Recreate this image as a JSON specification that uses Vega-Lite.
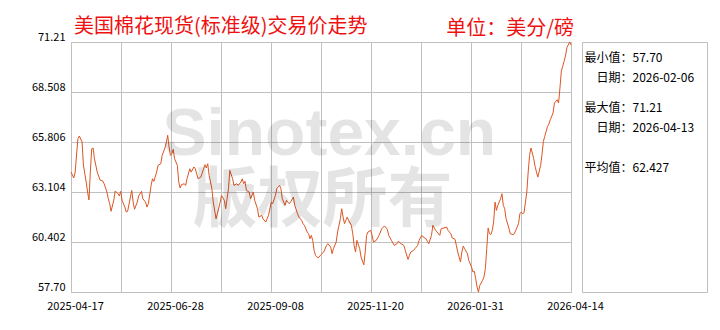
{
  "$schema": "https://vega.github.io/schema/vega-lite/v6.json",
  "background": "white",
  "padding": {"left": 28, "top": 16, "right": 14, "bottom": 10},
  "bounds": "flush",
  "spacing": 11,
  "config": {
    "font": "Noto Sans CJK SC",
    "view": {"stroke": "#c0c0c0", "strokeWidth": 1},
    "axis": {"domain": false, "ticks": false, "grid": true, "gridColor": "#c0c0c0", "gridOpacity": 1, "gridWidth": 1, "labelColor": "#000000", "labelFont": "Noto Sans CJK SC", "labelFontSize": 11, "labelOverlap": false},
    "title": {"fontWeight": "normal", "fontSize": 20, "color": "#ee1111", "font": "Noto Sans CJK SC"}
  },
  "datasets": {
    "cotton": [
      {"date": "2025-04-17", "price": 64.18}, {"date": "2025-04-19", "price": 63.86}, {"date": "2025-04-20", "price": 64.18}, {"date": "2025-04-22", "price": 65.98}, {"date": "2025-04-23", "price": 66.13}, {"date": "2025-04-25", "price": 65.81}, {"date": "2025-04-26", "price": 64.56}, {"date": "2025-04-28", "price": 63.64}, {"date": "2025-04-29", "price": 63.10}, {"date": "2025-04-30", "price": 62.67},
      {"date": "2025-05-01", "price": 64.18}, {"date": "2025-05-02", "price": 65.44}, {"date": "2025-05-03", "price": 65.48}, {"date": "2025-05-04", "price": 64.90}, {"date": "2025-05-06", "price": 64.18}, {"date": "2025-05-08", "price": 63.75}, {"date": "2025-05-10", "price": 63.70}, {"date": "2025-05-11", "price": 63.55}, {"date": "2025-05-13", "price": 63.10}, {"date": "2025-05-14", "price": 62.74}, {"date": "2025-05-15", "price": 62.47}, {"date": "2025-05-16", "price": 62.06}, {"date": "2025-05-18", "price": 62.67}, {"date": "2025-05-19", "price": 63.16}, {"date": "2025-05-21", "price": 63.01}, {"date": "2025-05-22", "price": 62.89}, {"date": "2025-05-23", "price": 63.14}, {"date": "2025-05-24", "price": 62.65}, {"date": "2025-05-26", "price": 62.29}, {"date": "2025-05-27", "price": 62.02}, {"date": "2025-05-28", "price": 62.06}, {"date": "2025-05-30", "price": 62.83}, {"date": "2025-05-31", "price": 63.19},
      {"date": "2025-06-01", "price": 62.56}, {"date": "2025-06-02", "price": 62.17}, {"date": "2025-06-04", "price": 62.56}, {"date": "2025-06-05", "price": 62.89}, {"date": "2025-06-07", "price": 63.14}, {"date": "2025-06-08", "price": 62.74}, {"date": "2025-06-10", "price": 62.56}, {"date": "2025-06-11", "price": 62.29}, {"date": "2025-06-12", "price": 62.47}, {"date": "2025-06-14", "price": 63.46}, {"date": "2025-06-15", "price": 63.82}, {"date": "2025-06-16", "price": 63.68}, {"date": "2025-06-18", "price": 64.18}, {"date": "2025-06-19", "price": 64.54}, {"date": "2025-06-21", "price": 64.63}, {"date": "2025-06-22", "price": 65.08}, {"date": "2025-06-24", "price": 65.48}, {"date": "2025-06-25", "price": 65.77}, {"date": "2025-06-26", "price": 66.17}, {"date": "2025-06-27", "price": 65.54}, {"date": "2025-06-28", "price": 65.08}, {"date": "2025-06-29", "price": 65.17}, {"date": "2025-06-30", "price": 65.41},
      {"date": "2025-07-01", "price": 64.90}, {"date": "2025-07-03", "price": 64.54}, {"date": "2025-07-04", "price": 63.64}, {"date": "2025-07-05", "price": 63.32}, {"date": "2025-07-06", "price": 63.50}, {"date": "2025-07-08", "price": 63.55}, {"date": "2025-07-09", "price": 63.46}, {"date": "2025-07-10", "price": 63.82}, {"date": "2025-07-12", "price": 64.36}, {"date": "2025-07-13", "price": 64.18}, {"date": "2025-07-15", "price": 64.46}, {"date": "2025-07-16", "price": 64.36}, {"date": "2025-07-18", "price": 63.82}, {"date": "2025-07-20", "price": 63.91}, {"date": "2025-07-22", "price": 64.36}, {"date": "2025-07-23", "price": 64.58}, {"date": "2025-07-24", "price": 64.40}, {"date": "2025-07-25", "price": 64.63}, {"date": "2025-07-26", "price": 64.00}, {"date": "2025-07-28", "price": 63.28}, {"date": "2025-07-29", "price": 62.56}, {"date": "2025-07-31", "price": 61.66},
      {"date": "2025-08-01", "price": 61.93}, {"date": "2025-08-03", "price": 62.56}, {"date": "2025-08-04", "price": 62.92}, {"date": "2025-08-06", "price": 62.65}, {"date": "2025-08-07", "price": 62.20}, {"date": "2025-08-08", "price": 62.74}, {"date": "2025-08-09", "price": 63.28}, {"date": "2025-08-10", "price": 64.27}, {"date": "2025-08-12", "price": 63.82}, {"date": "2025-08-13", "price": 63.46}, {"date": "2025-08-15", "price": 63.55}, {"date": "2025-08-16", "price": 63.46}, {"date": "2025-08-18", "price": 63.64}, {"date": "2025-08-19", "price": 63.82}, {"date": "2025-08-20", "price": 63.55}, {"date": "2025-08-21", "price": 63.68}, {"date": "2025-08-22", "price": 63.19}, {"date": "2025-08-24", "price": 63.10}, {"date": "2025-08-25", "price": 62.74}, {"date": "2025-08-27", "price": 63.10}, {"date": "2025-08-28", "price": 62.65}, {"date": "2025-08-30", "price": 62.20}, {"date": "2025-08-31", "price": 61.75},
      {"date": "2025-09-02", "price": 61.84}, {"date": "2025-09-03", "price": 61.66}, {"date": "2025-09-05", "price": 61.48}, {"date": "2025-09-06", "price": 61.66}, {"date": "2025-09-07", "price": 61.84}, {"date": "2025-09-09", "price": 62.56}, {"date": "2025-09-10", "price": 62.47}, {"date": "2025-09-12", "price": 62.92}, {"date": "2025-09-13", "price": 63.28}, {"date": "2025-09-15", "price": 63.46}, {"date": "2025-09-16", "price": 63.28}, {"date": "2025-09-17", "price": 62.74}, {"date": "2025-09-19", "price": 62.38}, {"date": "2025-09-20", "price": 62.65}, {"date": "2025-09-22", "price": 62.47}, {"date": "2025-09-23", "price": 62.56}, {"date": "2025-09-25", "price": 62.83}, {"date": "2025-09-26", "price": 62.38}, {"date": "2025-09-28", "price": 61.93}, {"date": "2025-09-29", "price": 61.75},
      {"date": "2025-10-01", "price": 61.57}, {"date": "2025-10-02", "price": 61.39}, {"date": "2025-10-03", "price": 61.30}, {"date": "2025-10-05", "price": 60.94}, {"date": "2025-10-06", "price": 60.85}, {"date": "2025-10-07", "price": 60.58}, {"date": "2025-10-08", "price": 60.76}, {"date": "2025-10-09", "price": 60.49}, {"date": "2025-10-10", "price": 59.95}, {"date": "2025-10-11", "price": 59.68}, {"date": "2025-10-13", "price": 59.54}, {"date": "2025-10-15", "price": 59.72}, {"date": "2025-10-17", "price": 59.86}, {"date": "2025-10-19", "price": 60.22}, {"date": "2025-10-20", "price": 60.31}, {"date": "2025-10-22", "price": 60.13}, {"date": "2025-10-23", "price": 59.77}, {"date": "2025-10-24", "price": 60.04}, {"date": "2025-10-26", "price": 60.40}, {"date": "2025-10-27", "price": 60.94}, {"date": "2025-10-29", "price": 61.66}, {"date": "2025-10-30", "price": 62.20}, {"date": "2025-10-31", "price": 61.75},
      {"date": "2025-11-01", "price": 61.39}, {"date": "2025-11-03", "price": 61.75}, {"date": "2025-11-04", "price": 61.57}, {"date": "2025-11-06", "price": 61.30}, {"date": "2025-11-07", "price": 60.85}, {"date": "2025-11-08", "price": 60.22}, {"date": "2025-11-09", "price": 59.86}, {"date": "2025-11-10", "price": 60.49}, {"date": "2025-11-12", "price": 60.04}, {"date": "2025-11-13", "price": 59.59}, {"date": "2025-11-15", "price": 59.17}, {"date": "2025-11-16", "price": 59.86}, {"date": "2025-11-17", "price": 60.76}, {"date": "2025-11-18", "price": 60.94}, {"date": "2025-11-20", "price": 61.03}, {"date": "2025-11-21", "price": 60.76}, {"date": "2025-11-22", "price": 60.40}, {"date": "2025-11-24", "price": 60.49}, {"date": "2025-11-26", "price": 60.76}, {"date": "2025-11-28", "price": 61.12}, {"date": "2025-11-30", "price": 61.27},
      {"date": "2025-12-02", "price": 61.09}, {"date": "2025-12-03", "price": 60.76}, {"date": "2025-12-05", "price": 60.49}, {"date": "2025-12-07", "price": 60.22}, {"date": "2025-12-09", "price": 60.31}, {"date": "2025-12-10", "price": 60.44}, {"date": "2025-12-12", "price": 60.31}, {"date": "2025-12-14", "price": 60.22}, {"date": "2025-12-15", "price": 59.95}, {"date": "2025-12-17", "price": 59.46}, {"date": "2025-12-18", "price": 59.68}, {"date": "2025-12-19", "price": 59.86}, {"date": "2025-12-21", "price": 59.95}, {"date": "2025-12-22", "price": 60.04}, {"date": "2025-12-24", "price": 60.22}, {"date": "2025-12-25", "price": 60.49}, {"date": "2025-12-27", "price": 60.76}, {"date": "2025-12-28", "price": 60.67}, {"date": "2025-12-30", "price": 60.58}, {"date": "2025-12-31", "price": 60.44},
      {"date": "2026-01-01", "price": 60.31}, {"date": "2026-01-03", "price": 60.76}, {"date": "2026-01-04", "price": 61.30}, {"date": "2026-01-06", "price": 61.03}, {"date": "2026-01-07", "price": 60.94}, {"date": "2026-01-09", "price": 60.76}, {"date": "2026-01-10", "price": 61.12}, {"date": "2026-01-12", "price": 61.16}, {"date": "2026-01-14", "price": 61.21}, {"date": "2026-01-15", "price": 61.03}, {"date": "2026-01-17", "price": 60.85}, {"date": "2026-01-18", "price": 60.62}, {"date": "2026-01-20", "price": 60.55}, {"date": "2026-01-21", "price": 60.22}, {"date": "2026-01-22", "price": 59.86}, {"date": "2026-01-24", "price": 59.32}, {"date": "2026-01-25", "price": 59.86}, {"date": "2026-01-26", "price": 60.18}, {"date": "2026-01-27", "price": 60.04}, {"date": "2026-01-29", "price": 59.77}, {"date": "2026-01-30", "price": 59.41},
      {"date": "2026-02-01", "price": 59.05}, {"date": "2026-02-02", "price": 58.78}, {"date": "2026-02-03", "price": 58.82}, {"date": "2026-02-04", "price": 58.42}, {"date": "2026-02-05", "price": 57.97}, {"date": "2026-02-06", "price": 57.70}, {"date": "2026-02-07", "price": 58.06}, {"date": "2026-02-09", "price": 58.33}, {"date": "2026-02-10", "price": 58.51}, {"date": "2026-02-11", "price": 58.96}, {"date": "2026-02-12", "price": 60.04}, {"date": "2026-02-13", "price": 61.16}, {"date": "2026-02-14", "price": 60.85}, {"date": "2026-02-15", "price": 60.80}, {"date": "2026-02-16", "price": 61.03}, {"date": "2026-02-17", "price": 61.48}, {"date": "2026-02-18", "price": 62.56}, {"date": "2026-02-19", "price": 62.11}, {"date": "2026-02-20", "price": 62.38}, {"date": "2026-02-22", "price": 62.74}, {"date": "2026-02-23", "price": 63.01}, {"date": "2026-02-24", "price": 62.38}, {"date": "2026-02-25", "price": 62.20}, {"date": "2026-02-26", "price": 61.66}, {"date": "2026-02-28", "price": 61.16},
      {"date": "2026-03-01", "price": 60.85}, {"date": "2026-03-03", "price": 60.80}, {"date": "2026-03-04", "price": 60.85}, {"date": "2026-03-05", "price": 61.03}, {"date": "2026-03-07", "price": 61.39}, {"date": "2026-03-08", "price": 61.93}, {"date": "2026-03-09", "price": 62.02}, {"date": "2026-03-10", "price": 61.93}, {"date": "2026-03-11", "price": 61.98}, {"date": "2026-03-13", "price": 63.10}, {"date": "2026-03-14", "price": 64.18}, {"date": "2026-03-15", "price": 65.08}, {"date": "2026-03-16", "price": 65.48}, {"date": "2026-03-17", "price": 65.21}, {"date": "2026-03-18", "price": 64.90}, {"date": "2026-03-19", "price": 64.49}, {"date": "2026-03-20", "price": 64.18}, {"date": "2026-03-21", "price": 63.91}, {"date": "2026-03-23", "price": 64.54}, {"date": "2026-03-24", "price": 65.12}, {"date": "2026-03-25", "price": 65.84}, {"date": "2026-03-26", "price": 66.11}, {"date": "2026-03-28", "price": 66.65}, {"date": "2026-03-29", "price": 66.78}, {"date": "2026-03-30", "price": 67.01},
      {"date": "2026-04-01", "price": 67.37}, {"date": "2026-04-02", "price": 67.91}, {"date": "2026-04-04", "price": 68.09}, {"date": "2026-04-05", "price": 67.91}, {"date": "2026-04-06", "price": 68.72}, {"date": "2026-04-07", "price": 69.63}, {"date": "2026-04-08", "price": 69.90}, {"date": "2026-04-09", "price": 70.17}, {"date": "2026-04-10", "price": 70.45}, {"date": "2026-04-11", "price": 70.90}, {"date": "2026-04-13", "price": 71.21}, {"date": "2026-04-14", "price": 71.05}
    ],
    "stats": [
      {"key": "最小值", "kind": "value", "text": "最小值：57.70"},
      {"key": "最小值日期", "kind": "date", "text": "日期：2026-02-06"},
      {"key": "最大值", "kind": "value", "text": "最大值：71.21"},
      {"key": "最大值日期", "kind": "date", "text": "日期：2026-04-13"},
      {"key": "平均值", "kind": "value", "text": "平均值：62.427"}
    ],
    "watermark": [{"text": "Sinotex.cn"}, {"text": "版权所有"}]
  },
  "hconcat": [
    {
      "width": 500,
      "height": 250,
      "title": {"text": "美国棉花现货(标准级)交易价走势", "anchor": "start", "frame": "group", "dx": 3, "offset": -6},
      "layer": [
        {
          "data": {"name": "cotton"},
          "mark": {"type": "line", "color": "#dd5522", "strokeWidth": 1},
          "encoding": {
            "x": {
              "field": "date", "type": "temporal",
              "scale": {"type": "utc", "domain": [1744848000000, 1776124800000], "nice": false},
              "axis": {
                "values": [1744848000000, 1746411840000, 1747975680000, 1749539520000, 1751103360000, 1752667200000, 1754231040000, 1755794880000, 1757358720000, 1758922560000, 1760486400000, 1762050240000, 1763614080000, 1765177920000, 1766741760000, 1768305600000, 1769869440000, 1771433280000, 1772997120000, 1774560960000, 1776124800000],
                "labelExpr": "round((datum.value - 1744848000000) / 1563840000) % 4 == 0 ? utcFormat(datum.value, '%Y-%m-%d') : ''",
                "labelFlush": false, "labelOffset": 4, "labelPadding": 8, "title": null
              }
            },
            "y": {
              "field": "price", "type": "quantitative",
              "scale": {"domain": [57.7, 71.21], "zero": false, "nice": false},
              "axis": {
                "values": [57.7, 59.051, 60.402, 61.753, 63.104, 64.455, 65.806, 67.157, 68.508, 69.859, 71.21],
                "labelExpr": "datum.value == 57.7 ? '57.70' : format(datum.value, '.3~f')",
                "labelBaseline": "bottom", "labelPadding": 6, "minExtent": 42, "maxExtent": 42, "labelFlush": false, "title": null
              }
            }
          }
        },
        {
          "data": {"name": "watermark"},
          "transform": [{"filter": "datum.text == 'Sinotex.cn'"}],
          "mark": {"type": "text", "font": "Liberation Sans", "fontWeight": "bold", "fontSize": 66, "color": "#000000", "opacity": 0.1, "align": "center", "baseline": "alphabetic"},
          "encoding": {
            "x": {"datum": {"year": 2025, "month": 10, "date": 21, "utc": true}, "type": "temporal"},
            "y": {"datum": 65.1, "type": "quantitative"},
            "text": {"field": "text", "type": "nominal"}
          }
        },
        {
          "data": {"name": "watermark"},
          "transform": [{"filter": "datum.text == '版权所有'"}],
          "mark": {"type": "text", "font": "Noto Sans CJK SC", "fontWeight": "bold", "fontSize": 65, "color": "#000000", "opacity": 0.1, "align": "center", "baseline": "middle"},
          "encoding": {
            "x": {"datum": {"year": 2025, "month": 10, "date": 16, "utc": true}, "type": "temporal"},
            "y": {"datum": 62.62, "type": "quantitative"},
            "text": {"field": "text", "type": "nominal"}
          }
        }
      ]
    },
    {
      "width": 125,
      "height": 250,
      "title": {"text": "单位：美分/磅", "anchor": "end", "frame": "group", "dx": -133, "offset": 3},
      "data": {"name": "stats"},
      "encoding": {
        "y": {
          "field": "key", "type": "nominal",
          "scale": {"type": "point", "padding": 0.5, "domain": ["_0", "最小值", "_2", "最小值日期", "_4", "_5", "最大值", "_7", "最大值日期", "_9", "_10", "_11", "平均值", "_13", "_14", "_15", "_16", "_17", "_18", "_19", "_20", "_21", "_22", "_23", "_24"]},
          "axis": null
        },
        "text": {"field": "text", "type": "nominal"}
      },
      "layer": [
        {
          "transform": [{"filter": "datum.kind == 'value'"}],
          "mark": {"type": "text", "align": "left", "baseline": "middle", "fontSize": 12, "color": "#000000", "dx": -60, "dy": 1}
        },
        {
          "transform": [{"filter": "datum.kind == 'date'"}],
          "mark": {"type": "text", "align": "left", "baseline": "middle", "fontSize": 12, "color": "#000000", "dx": -48, "dy": 1}
        }
      ]
    }
  ]
}
